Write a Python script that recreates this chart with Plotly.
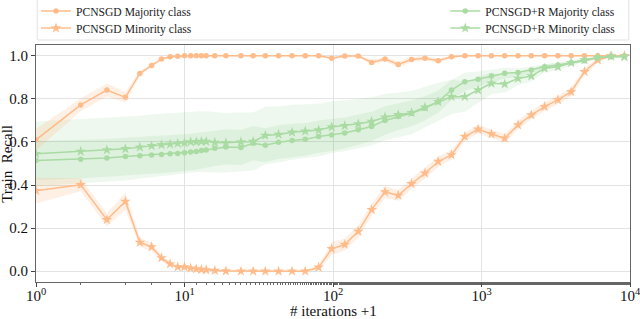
import plotly.graph_objects as go

# x positions (# iterations + 1)
x_iter = [1, 2, 3, 4, 5, 6, 7, 8, 9, 10, 11, 12, 13, 14, 16, 19, 24, 29, 35, 43, 53, 65, 80,
          98, 120, 148, 182, 224, 275, 338, 416, 511, 628, 772, 949, 1166, 1433, 1761, 2164,
          2660, 3269, 4017, 4937, 6068, 7457, 9165]

pc_major = [0.61, 0.772, 0.841, 0.807, 0.918, 0.955, 0.985, 0.995, 0.998, 1.0, 1.0, 1.0, 1.0, 1.0,
            1.0, 1.0, 1.0, 1.0, 1.0, 1.0, 1.0, 1.0, 1.0,
            0.988, 0.999, 0.999, 0.969, 0.985, 0.960, 0.983, 0.989, 0.977, 0.995, 1.0, 1.0, 1.0,
            1.0, 1.0, 1.0, 1.0, 1.0, 1.0, 1.0, 1.0, 1.0, 1.0]
pc_minor = [0.374, 0.401, 0.239, 0.324, 0.134, 0.113, 0.062, 0.034, 0.020, 0.020, 0.014, 0.011,
            0.008, 0.006, 0.003, 0.001, 0.0, 0.0, 0.0, 0.0, 0.0, 0.0, 0.018,
            0.104, 0.124, 0.185, 0.286, 0.368, 0.352, 0.406, 0.455, 0.509, 0.540, 0.625, 0.659,
            0.637, 0.617, 0.679, 0.725, 0.764, 0.795, 0.833, 0.926, 0.980, 0.999, 1.0]
pcr_major = [0.514, 0.520, 0.525, 0.532, 0.536, 0.539, 0.542, 0.545, 0.546, 0.550, 0.553, 0.556,
             0.560, 0.563, 0.571, 0.577, 0.574, 0.594, 0.585, 0.599, 0.607, 0.612, 0.625,
             0.632, 0.642, 0.657, 0.672, 0.700, 0.718, 0.733, 0.756, 0.787, 0.841, 0.880, 0.891,
             0.906, 0.919, 0.922, 0.934, 0.949, 0.957, 0.968, 0.977, 0.992, 0.995, 0.998]
pcr_minor = [0.545, 0.556, 0.563, 0.568, 0.576, 0.582, 0.587, 0.590, 0.593, 0.596, 0.600, 0.601,
             0.602, 0.602, 0.598, 0.596, 0.600, 0.602, 0.630, 0.635, 0.645, 0.650, 0.655,
             0.669, 0.675, 0.684, 0.695, 0.715, 0.726, 0.736, 0.761, 0.787, 0.810, 0.810, 0.841,
             0.872, 0.869, 0.895, 0.906, 0.942, 0.949, 0.968, 0.980, 0.992, 0.998, 0.995]

# spread (std) per point
pc_major_sd = [0.05, 0.03, 0.03, 0.025, 0.012, 0.008, 0.005, 0.004, 0.003, 0.002, 0.002, 0.002,
               0.002, 0.002, 0.002, 0.002, 0.002, 0.002, 0.002, 0.002, 0.002, 0.002, 0.002,
               0.008, 0.006, 0.006, 0.012, 0.01, 0.014, 0.012, 0.01, 0.01, 0.006, 0.003, 0.003,
               0.003, 0.003, 0.003, 0.003, 0.003, 0.003, 0.003, 0.003, 0.003, 0.003, 0.003]
pc_minor_sd = [0.06, 0.03, 0.03, 0.04, 0.02, 0.02, 0.015, 0.01, 0.008, 0.006, 0.005, 0.004,
               0.003, 0.003, 0.002, 0.002, 0.002, 0.002, 0.002, 0.002, 0.002, 0.004, 0.012,
               0.03, 0.028, 0.028, 0.028, 0.028, 0.025, 0.025, 0.025, 0.025, 0.022, 0.02, 0.02,
               0.02, 0.02, 0.02, 0.02, 0.02, 0.02, 0.02, 0.018, 0.01, 0.005, 0.004]
pcr_major_sd = [0.09, 0.09, 0.089, 0.088, 0.088, 0.087, 0.087, 0.086, 0.086, 0.085, 0.085, 0.085,
                0.084, 0.084, 0.083, 0.082, 0.081, 0.08, 0.079, 0.078, 0.077, 0.076, 0.075,
                0.074, 0.072, 0.07, 0.068, 0.066, 0.063, 0.06, 0.056, 0.052, 0.047, 0.042, 0.036,
                0.03, 0.025, 0.02, 0.016, 0.013, 0.01, 0.008, 0.006, 0.005, 0.004, 0.004]
pcr_minor_sd = [0.15, 0.15, 0.148, 0.147, 0.146, 0.145, 0.145, 0.144, 0.143, 0.142, 0.142, 0.141,
                0.141, 0.14, 0.14, 0.138, 0.137, 0.135, 0.133, 0.13, 0.128, 0.125, 0.122,
                0.12, 0.118, 0.115, 0.112, 0.108, 0.104, 0.1, 0.095, 0.088, 0.08, 0.07, 0.06,
                0.05, 0.04, 0.032, 0.025, 0.02, 0.016, 0.012, 0.01, 0.008, 0.006, 0.005]

x_tickvals = [1, 10, 100, 1000, 10000]
x_ticktext = ["10<sup>0</sup>", "10<sup>1</sup>", "10<sup>2</sup>", "10<sup>3</sup>", "10<sup>4</sup>"]
y_tickvals = [0.0, 0.2, 0.4, 0.6, 0.8, 1.0]

ORANGE = "#FFBC8A"
GREEN = "#A9DBA3"
ORANGE_FILL = "rgba(255,140,60,0.13)"
GREEN_FILL = "rgba(90,190,90,0.10)"
SERIF = "Liberation Serif"

fig = go.Figure()


def band(y, sd, fill):
    up = [a + b for a, b in zip(y, sd)]
    lo = [a - b for a, b in zip(y, sd)]
    fig.add_trace(go.Scatter(x=x_iter + x_iter[::-1], y=up + lo[::-1], fill="toself",
                             fillcolor=fill, line=dict(width=0), mode="lines",
                             hoverinfo="skip", showlegend=False))


band(pcr_minor, pcr_minor_sd, GREEN_FILL)
band(pcr_major, pcr_major_sd, GREEN_FILL)
band(pc_major, pc_major_sd, ORANGE_FILL)
band(pc_minor, pc_minor_sd, ORANGE_FILL)

fig.add_trace(go.Scatter(x=x_iter, y=pc_major, mode="lines+markers", name="PCNSGD Majority class",
                         line=dict(color=ORANGE, width=1.5),
                         marker=dict(symbol="circle", size=5.5, color=ORANGE), legend="legend"))
fig.add_trace(go.Scatter(x=x_iter, y=pc_minor, mode="lines+markers", name="PCNSGD Minority class",
                         line=dict(color=ORANGE, width=1.5),
                         marker=dict(symbol="star", size=8, color=ORANGE), legend="legend2"))
fig.add_trace(go.Scatter(x=x_iter, y=pcr_major, mode="lines+markers", name="PCNSGD+R Majority class",
                         line=dict(color=GREEN, width=1.5),
                         marker=dict(symbol="circle", size=5.5, color=GREEN), legend="legend3"))
fig.add_trace(go.Scatter(x=x_iter, y=pcr_minor, mode="lines+markers", name="PCNSGD+R Minority class",
                         line=dict(color=GREEN, width=1.5),
                         marker=dict(symbol="star", size=8, color=GREEN), legend="legend4"))

legend_common = dict(font=dict(family=SERIF, size=11.6, color="#222"), bgcolor="rgba(255,255,255,0)",
                     borderwidth=0, yanchor="middle", xanchor="left", tracegroupgap=0)

# plot area in pixels: top 45, bottom 282 -> paper y = (282 - py) / 237
fig.update_layout(
    width=640, height=319,
    margin=dict(l=36, r=10, t=45, b=37, autoexpand=False),
    paper_bgcolor="white", plot_bgcolor="white",
    font=dict(family=SERIF, size=15, color="#111"),
    legend=dict(x=0.0, y=(282 - 11) / 237, **legend_common),
    legend2=dict(x=0.0, y=(282 - 28) / 237, **legend_common),
    legend3=dict(x=0.689, y=(282 - 11) / 237, **legend_common),
    legend4=dict(x=0.689, y=(282 - 28) / 237, **legend_common),
    shapes=[dict(type="rect", xref="paper", yref="paper", x0=0.002, x1=0.998,
                 y0=(282 - 40) / 237, y1=(282 + 4) / 237,
                 line=dict(color="#e2e2e2", width=1), fillcolor="rgba(255,255,255,0)",
                 layer="below")],
    xaxis=dict(type="log", range=[0, 4], tickvals=x_tickvals, ticktext=x_ticktext,
               showgrid=True, gridcolor="#e3e3e3", gridwidth=1,
               showline=True, linecolor="#666", linewidth=1, mirror=True,
               ticks="outside", ticklen=4, tickcolor="#444",
               minor=dict(ticks="outside", ticklen=2, tickcolor="#666", showgrid=False),
               tickfont=dict(family=SERIF, size=15, color="#111"), zeroline=False,
               ticklabeloverflow="allow", ticklabelstandoff=-4, automargin=False),
    yaxis=dict(range=[-0.05, 1.05], tickvals=y_tickvals, tickformat=".1f",
               showgrid=True, gridcolor="#e3e3e3", gridwidth=1,
               showline=True, linecolor="#666", linewidth=1, mirror=True,
               ticks="outside", ticklen=4, tickcolor="#444",
               tickfont=dict(family=SERIF, size=15, color="#111"), zeroline=False,
               ticklabeloverflow="allow", automargin=False),
    annotations=[
        dict(text="# iterations +1", x=0.5, y=(282 - 311) / 237, xref="paper", yref="paper",
             xanchor="center", yanchor="middle", showarrow=False,
             font=dict(family=SERIF, size=15, color="#111")),
        dict(text="Train  Recall", x=-0.05, y=0.5, xref="paper", yref="paper", textangle=-90,
             xanchor="center", yanchor="middle", showarrow=False,
             font=dict(family=SERIF, size=15, color="#111")),
    ],
)

fig.write_html("out.html", config={"displayModeBar": False},
               post_script="document.body.style.margin='0';document.body.style.overflow='hidden';")
